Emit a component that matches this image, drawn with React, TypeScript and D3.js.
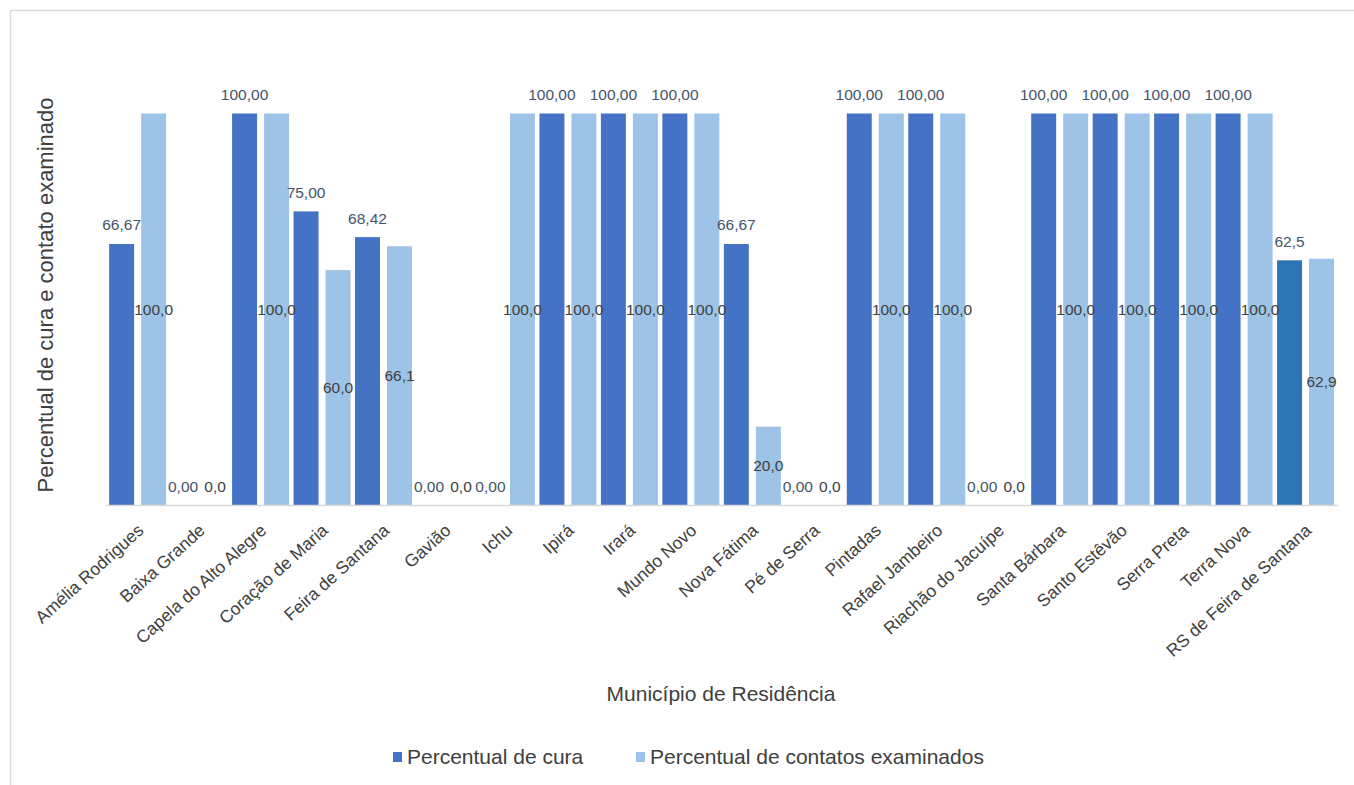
import React from "react";
import * as d3 from "d3";

const categories = [
  "Amélia Rodrigues",
  "Baixa Grande",
  "Capela do Alto Alegre",
  "Coração de Maria",
  "Feira de Santana",
  "Gavião",
  "Ichu",
  "Ipirá",
  "Irará",
  "Mundo Novo",
  "Nova Fátima",
  "Pé de Serra",
  "Pintadas",
  "Rafael Jambeiro",
  "Riachão do Jacuípe",
  "Santa Bárbara",
  "Santo Estêvão",
  "Serra Preta",
  "Terra Nova",
  "RS de Feira de Santana",
];

const cureValues = [66.67, 0, 100, 75, 68.42, 0, 0, 100, 100, 100, 66.67, 0, 100, 100, 0, 100, 100, 100, 100, 62.5];
const contactValues = [100, 0, 100, 60, 66.1, 0, 100, 100, 100, 100, 20, 0, 100, 100, 0, 100, 100, 100, 100, 62.9];

const seriesNames = ["Percentual de cura", "Percentual de contatos examinados"];
const yAxisTitle = "Percentual de cura e contato examinado";
const xAxisTitle = "Município de Residência";

const W = 1354;
const H = 785;
const FONT = "'Liberation Sans', Arial, Helvetica, sans-serif";
const DARK = "#4472C4";
const DARK_TOTAL = "#2E75B6";
const LIGHT = "#9DC3E6";

const locale = d3.formatLocale({ decimal: ",", thousands: ".", grouping: [3], currency: ["R$", ""] });
const fmt2 = locale.format(".2f");
const fmt1 = locale.format(".1f");

export default function App() {
  const baseY = 505;
  const x0 = d3.scaleBand<string>().domain(categories).range([106.9, 1336.3]);
  const x1 = d3
    .scaleBand<string>()
    .domain(["cure", "contact"])
    .range([0, x0.bandwidth()])
    .paddingInner(0.22)
    .paddingOuter(0.07);
  const y = d3.scaleLinear().domain([0, 100]).range([baseY, 113.5]);
  const bw = x1.bandwidth();
  const last = categories.length - 1;

  return (
    <svg
      width={W}
      height={H}
      style={{ position: "absolute", left: 0, top: 0, display: "block", background: "#fff" }}
      fontFamily={FONT}
    >
      <rect x={0} y={0} width={W} height={H} fill="#fff" />
      <rect x={10.5} y={10.5} width={W + 20} height={H + 20} fill="none" stroke="#D9D9D9" strokeWidth={1.5} />

      {/* bars */}
      {categories.map((c, i) => {
        const xc = (x0(c) ?? 0) + (x1("cure") ?? 0);
        const xl = (x0(c) ?? 0) + (x1("contact") ?? 0);
        const vc = cureValues[i];
        const vl = contactValues[i];
        return (
          <g key={c}>
            <rect x={xc} y={y(vc)} width={bw} height={baseY - y(vc)} fill={i === last ? DARK_TOTAL : DARK} />
            <rect x={xl} y={y(vl)} width={bw} height={baseY - y(vl)} fill={LIGHT} />
          </g>
        );
      })}

      {/* axis line */}
      <line x1={106} x2={1338} y1={baseY + 0.5} y2={baseY + 0.5} stroke="#D9D9D9" strokeWidth={1.5} />

      {/* cure labels: outside end */}
      {categories.map((c, i) => {
        const xc = (x0(c) ?? 0) + (x1("cure") ?? 0) + bw / 2;
        const v = cureValues[i];
        return (
          <text
            key={"lc" + c}
            x={xc}
            y={y(v) - 13.5}
            textAnchor="middle"
            fontSize={15.5}
            fill="#44546A"
          >
            {i === last ? fmt1(v) : fmt2(v)}
          </text>
        );
      })}

      {/* contact labels: centered */}
      {categories.map((c, i) => {
        const xl = (x0(c) ?? 0) + (x1("contact") ?? 0) + bw / 2;
        const v = contactValues[i];
        const ly = v === 0 ? baseY - 13.5 : (y(v) + baseY) / 2 + 5.5;
        return (
          <text key={"ll" + c} x={xl} y={ly} textAnchor="middle" fontSize={15.5} fill="#404040">
            {fmt1(v)}
          </text>
        );
      })}

      {/* category labels */}
      {categories.map((c) => {
        const cx = (x0(c) ?? 0) + x0.bandwidth() / 2;
        return (
          <text
            key={"cat" + c}
            transform={`translate(${cx + 7},${baseY + 27}) rotate(-42)`}
            textAnchor="end"
            fontSize={17.5}
            fill="#404040"
          >
            {c}
          </text>
        );
      })}

      {/* axis titles */}
      <text
        transform={`translate(53,${295}) rotate(-90)`}
        textAnchor="middle"
        fontSize={22}
        fill="#404040"
      >
        {yAxisTitle}
      </text>
      <text x={721} y={701} textAnchor="middle" fontSize={21} fill="#404040">
        {xAxisTitle}
      </text>

      {/* legend */}
      <g>
        <rect x={393} y={752} width={9} height={10} fill={DARK} />
        <text x={407} y={764} fontSize={21} fill="#404040">
          {seriesNames[0]}
        </text>
        <rect x={636} y={752} width={9} height={10} fill={LIGHT} />
        <text x={650} y={764} fontSize={21} fill="#404040">
          {seriesNames[1]}
        </text>
      </g>
    </svg>
  );
}
